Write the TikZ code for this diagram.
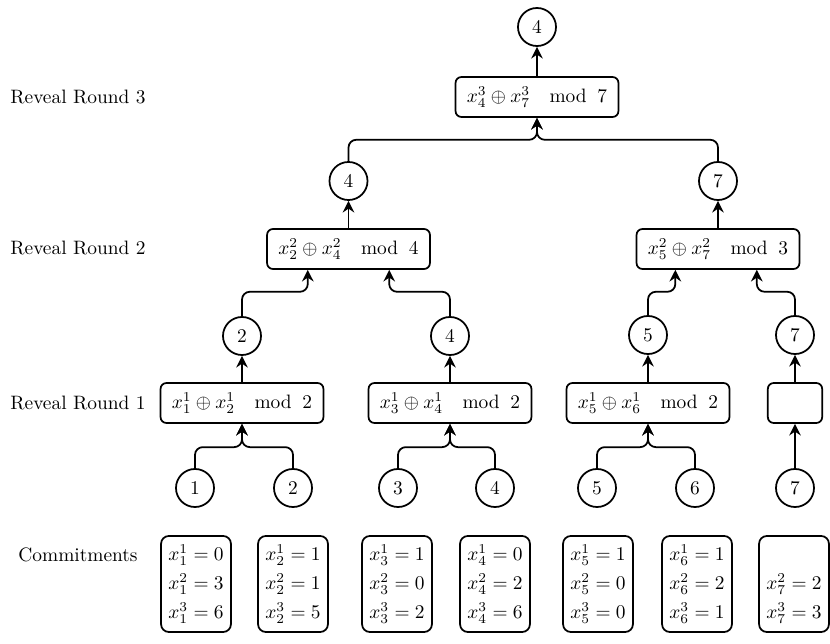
\documentclass[tikz,border=0pt]{standalone}
\usepackage{amsmath}
\usetikzlibrary{arrows.meta,calc}
\begin{document}
\begin{tikzpicture}[x=0.5155pt,y=-0.5155pt,
  line width=0.9pt,
  circ/.style={draw,circle,minimum size=19.6pt,inner sep=0pt},
  opbox/.style={draw,rounded corners=3pt,minimum height=20.6pt,inner xsep=5.8pt},
  combox/.style={draw,rounded corners=4pt,minimum width=36pt,minimum height=49.5pt,inner xsep=2.5pt,align=center},
  arr/.style={-{Stealth[length=6pt,width=6pt,inset=2pt]},rounded corners=4pt},
  lbl/.style={anchor=center}]
\useasboundingbox (0,0) rectangle (830,644);

% labels
\node[lbl] (l3) at (78,97) {Reveal Round 3};
\node[lbl] (l2) at (78,248) {Reveal Round 2};
\node[lbl] (l1) at (78,403) {Reveal Round 1};
\node[lbl] (lc) at (78,555) {Commitments};

% round 3
\node[circ] (top) at (537,27) {4};
\node[opbox] (r3) at (537,97) {$x_4^3\oplus x_7^3\quad\mathrm{mod}\;\;7$};

% round 2
\node[circ] (c2a) at (348.5,181) {4};
\node[circ] (c2b) at (718,181) {7};
\node[opbox] (r2a) at (348.5,249) {$x_2^2\oplus x_4^2\quad\mathrm{mod}\;\;4$};
\node[opbox] (r2b) at (718,249) {$x_5^2\oplus x_7^2\quad\mathrm{mod}\;\;3$};

% round 1
\node[circ] (c1a) at (242,336) {2};
\node[circ] (c1b) at (450,336) {4};
\node[circ] (c1c) at (648,335) {5};
\node[circ] (c1d) at (795,335) {7};
\node[opbox] (r1a) at (242,403) {$x_1^1\oplus x_2^1\quad\mathrm{mod}\;\;2$};
\node[opbox] (r1b) at (450,403) {$x_3^1\oplus x_4^1\quad\mathrm{mod}\;\;2$};
\node[opbox] (r1c) at (648,403) {$x_5^1\oplus x_6^1\quad\mathrm{mod}\;\;2$};
\node[opbox,minimum width=28pt] (r1d) at (795,403) {};

% leaves
\node[circ] (v1) at (195,488) {1};
\node[circ] (v2) at (293,488) {2};
\node[circ] (v3) at (398,488) {3};
\node[circ] (v4) at (495,488) {4};
\node[circ] (v5) at (597,488) {5};
\node[circ] (v6) at (695,488) {6};
\node[circ] (v7) at (795,488) {7};

% commitments
\node[combox] (k1) at (196,584) {$x_1^1=0$\\[3pt]$x_1^2=3$\\[3pt]$x_1^3=6$};
\node[combox] (k2) at (293,584) {$x_2^1=1$\\[3pt]$x_2^2=1$\\[3pt]$x_2^3=5$};
\node[combox] (k3) at (397,584) {$x_3^1=1$\\[3pt]$x_3^2=0$\\[3pt]$x_3^3=2$};
\node[combox] (k4) at (495,584) {$x_4^1=0$\\[3pt]$x_4^2=2$\\[3pt]$x_4^3=6$};
\node[combox] (k5) at (598,584) {$x_5^1=1$\\[3pt]$x_5^2=0$\\[3pt]$x_5^3=0$};
\node[combox] (k6) at (697,584) {$x_6^1=1$\\[3pt]$x_6^2=2$\\[3pt]$x_6^3=1$};
\node[combox] (k7) at (794,584) {\phantom{$x_7^1=0$}\\[3pt]$x_7^2=2$\\[3pt]$x_7^3=3$};

% connectors round 1
\draw[arr] (v1.north) |- ([yshift=-12pt]r1a.south) -- (r1a.south);
\draw[arr] (v2.north) |- ([yshift=-12pt]r1a.south) -- (r1a.south);
\draw[arr] (v3.north) |- ([yshift=-12pt]r1b.south) -- (r1b.south);
\draw[arr] (v4.north) |- ([yshift=-12pt]r1b.south) -- (r1b.south);
\draw[arr] (v5.north) |- ([yshift=-12pt]r1c.south) -- (r1c.south);
\draw[arr] (v6.north) |- ([yshift=-12pt]r1c.south) -- (r1c.south);
\draw[arr] (v7.north) -- (r1d.south);

\draw[arr] (r1a.north) -- (c1a.south);
\draw[arr] (r1b.north) -- (c1b.south);
\draw[arr] (r1c.north) -- (c1c.south);
\draw[arr] (r1d.north) -- (c1d.south);

% connectors round 2
\draw[arr] (c1a.north) |- ([xshift=-21pt,yshift=-11.3pt]r2a.south) -- ([xshift=-21pt]r2a.south);
\draw[arr] (c1b.north) |- ([xshift=21pt,yshift=-11.3pt]r2a.south) -- ([xshift=21pt]r2a.south);
\draw[arr] (c1c.north) |- ([xshift=-22pt,yshift=-11.3pt]r2b.south) -- ([xshift=-22pt]r2b.south);
\draw[arr] (c1d.north) |- ([xshift=20pt,yshift=-11.3pt]r2b.south) -- ([xshift=20pt]r2b.south);

\draw[arr] (r2a.north) -- (c2a.south);
\draw[arr] (r2b.north) -- (c2b.south);

% connectors round 3
\draw[arr] (c2a.north) |- ([yshift=-11.3pt]r3.south) -- (r3.south);
\draw[arr] (c2b.north) |- ([yshift=-11.3pt]r3.south) -- (r3.south);
\draw[arr] (r3.north) -- (top.south);
\end{tikzpicture}
\end{document}
